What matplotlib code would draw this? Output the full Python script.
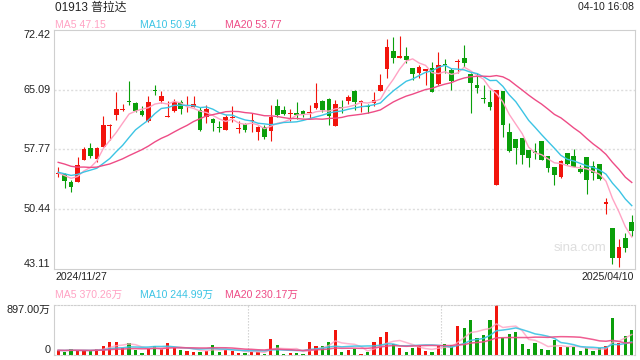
import numpy as np
import pandas as pd
import matplotlib
matplotlib.use("Agg")
import matplotlib.pyplot as plt

plt.rcParams['font.family'] = ['Liberation Sans', 'Noto Sans CJK SC']

# daily OHLC, 2024/11/27 .. 2025/04/10 (90 sessions)
opens = [54.80, 54.72, 53.82, 53.82, 56.48, 57.95, 56.60, 58.11, 60.70, 62.00,
         62.66, 63.66, 63.51, 62.53, 61.26, 64.97, 63.71, 61.76, 62.49, 63.63,
         62.55, 63.02, 62.61, 61.71, 61.51, 60.50, 60.16, 61.57, 60.26, 60.89,
         61.24, 59.95, 60.57, 60.08, 63.10, 62.61, 62.06, 62.28, 62.49, 62.30,
         62.86, 63.71, 63.96, 60.65, 63.00, 63.71, 64.94, 63.57, 62.96, 63.43,
         64.98, 67.60, 69.84, 69.03, 69.23, 67.72, 67.11, 67.35, 67.72, 65.80,
         68.25, 67.52, 68.44, 69.03, 66.98, 65.68, 63.95, 63.63, 53.41, 64.94,
         59.87, 59.05, 59.22, 57.71, 57.58, 58.81, 56.97, 55.66, 54.44, 57.30,
         56.97, 55.33, 56.81, 55.74, 55.95, 51.04, 48.10, 44.50, 46.87, 48.84]
highs = [55.66, 54.84, 54.02, 56.89, 58.03, 58.52, 58.03, 61.92, 60.89, 64.78,
         63.30, 66.17, 63.63, 63.10, 64.33, 65.67, 64.98, 63.71, 63.92, 63.84,
         64.33, 64.33, 63.02, 63.22, 61.59, 61.30, 62.00, 63.10, 61.30, 60.98,
         62.20, 60.65, 60.77, 63.22, 63.92, 63.10, 62.69, 63.55, 62.57, 63.22,
         65.96, 63.84, 64.04, 63.84, 63.84, 64.45, 65.06, 63.84, 63.35, 64.86,
         66.98, 71.28, 71.52, 71.73, 70.29, 67.80, 68.13, 67.64, 68.46, 69.76,
         68.86, 67.72, 68.86, 70.58, 67.11, 67.11, 65.68, 65.06, 65.06, 64.94,
         60.98, 59.05, 59.22, 57.71, 58.52, 58.81, 56.97, 55.66, 56.48, 57.30,
         57.79, 55.87, 56.81, 56.36, 55.95, 51.86, 48.10, 46.75, 47.57, 49.73]
lows = [54.43, 53.00, 52.60, 53.80, 56.48, 56.68, 56.27, 58.11, 58.93, 61.38,
        62.49, 63.22, 62.41, 61.87, 61.18, 64.45, 63.51, 61.71, 62.41, 62.12,
        62.36, 63.02, 60.07, 60.98, 60.03, 59.95, 60.16, 61.18, 59.83, 59.95,
        59.95, 58.93, 59.09, 58.85, 61.79, 62.00, 61.30, 61.47, 61.71, 61.59,
        62.73, 62.41, 60.77, 60.65, 62.20, 63.35, 62.61, 62.41, 62.20, 63.10,
        64.98, 66.49, 68.41, 69.03, 68.41, 66.29, 66.49, 65.68, 64.78, 65.68,
        67.19, 65.06, 67.11, 67.84, 62.28, 64.65, 63.51, 62.61, 53.41, 59.26,
        57.50, 55.99, 55.99, 55.66, 56.56, 56.48, 55.05, 53.41, 54.23, 55.87,
        55.58, 54.93, 52.27, 54.03, 54.03, 49.82, 43.69, 43.40, 45.24, 47.20]
closes = [54.85, 53.94, 53.21, 55.87, 57.83, 56.97, 57.99, 60.77, 60.77, 62.73,
          62.69, 63.61, 62.53, 62.00, 63.63, 64.92, 64.33, 61.80, 63.59, 62.77,
          62.58, 63.30, 60.15, 62.69, 60.98, 60.46, 61.71, 61.60, 60.29, 60.16,
          61.27, 60.57, 59.34, 61.71, 62.00, 62.12, 62.10, 62.04, 62.00, 62.33,
          63.51, 62.61, 61.92, 63.35, 62.90, 64.25, 63.63, 63.60, 62.92, 63.84,
          65.68, 70.38, 69.03, 69.27, 68.74, 66.98, 67.84, 67.60, 64.78, 68.13,
          68.18, 66.21, 68.47, 68.33, 65.88, 65.35, 63.90, 62.94, 65.06, 60.77,
          57.62, 57.99, 57.09, 56.77, 57.30, 56.48, 55.46, 54.64, 56.36, 55.95,
          55.58, 55.05, 54.03, 54.84, 54.11, 51.37, 44.50, 45.85, 45.65, 47.81]
# volume, 万股
volumes = [97, 61, 115, 79, 79, 67, 115, 170, 242, 242,
           121, 224, 97, 42, 109, 170, 109, 224, 121, 97,
           79, 61, 61, 79, 188, 61, 97, 79, 42, 42,
           61, 61, 24, 279, 188, 24, 42, 42, 24, 242,
           170, 170, 242, 442, 61, 97, 115, 24, 61, 242,
           315, 406, 206, 133, 61, 133, 170, 79, 61, 170,
           206, 188, 515, 479, 624, 297, 351, 624, 897, 297,
           370, 406, 206, 115, 224, 115, 97, 261, 141, 141,
           141, 69, 123, 69, 123, 170, 670, 215, 345, 440]

# sessions before the window, only used to seed the moving averages
prev_closes = [58.2, 58.6, 58.0, 57.6, 57.9, 57.2, 56.8, 57.0, 56.5, 56.3,
               55.8, 55.2, 54.6, 54.9, 54.7, 55.6, 54.9, 54.8, 54.35]
prev_volumes = [95, 70, 88, 120, 76, 64, 102, 85, 73, 90,
                68, 81, 110, 77, 66, 92, 84, 71, 79]

price_ticks = [72.42, 65.09, 57.77, 50.44, 43.11]
price_ma_text = ['MA5 47.15', 'MA10 50.94', 'MA20 53.77']
vol_ma_text = ['MA5 370.26万', 'MA10 244.99万', 'MA20 230.17万']
vol_top = 897.00
first_date = '2024/11/27'
last_date = '2025/04/10'

up_color = '#f2140c'
down_color = '#0a9f0a'
ma_colors = ['#ffa3c4', '#3cc4e4', '#ee4c86']
frame = '#cfcfcf'
grid = '#dddddd'

n = len(closes)
x = np.arange(n)
c_all = pd.Series(prev_closes + closes)
v_all = pd.Series(prev_volumes + volumes)
k0 = len(prev_closes)
price_ma = [c_all.rolling(w).mean().to_numpy()[k0:] for w in (5, 10, 20)]
vol_ma = [v_all.rolling(w).mean().to_numpy()[k0:] for w in (5, 10, 20)]

o = np.array(opens)
c = np.array(closes)
up = c >= o
colors = np.where(up, up_color, down_color)

fig = plt.figure(figsize=(6.4, 3.6), dpi=100)
ax = fig.add_axes([54 / 640, 1 - 269 / 360, 581 / 640, 239 / 360])
axv = fig.add_axes([54 / 640, 1 - 355 / 360, 581 / 640, 50 / 360])

# price panel
ax.text(0.95, 0.087, 'sina.com', transform=ax.transAxes, ha='right', va='center',
        fontsize=9.5, color='#dedede', zorder=0)
for t in price_ticks[1:-1]:
    ax.axhline(t, color=grid, lw=1.0, dashes=(1.5, 1.5), zorder=0)
ax.vlines(x, lows, highs, colors=colors, lw=0.8, zorder=2)
ax.bar(x, np.maximum(np.abs(c - o), 0.12), bottom=np.minimum(o, c), width=0.72,
       color=colors, linewidth=0, zorder=2)
for ma, col in zip(price_ma, ma_colors):
    ax.plot(x, ma, color=col, lw=1.0, zorder=3)
ax.set_xlim(-0.65, n - 0.5)
ax.set_ylim(price_ticks[-1], price_ticks[0])
ax.set_xticks([])
ax.set_yticks([])
for s in ax.spines.values():
    s.set_color(frame)
    s.set_linewidth(0.8)
ytr = ax.get_yaxis_transform()
for i, t in enumerate(price_ticks):
    va = 'top' if i == 0 else ('bottom' if i == len(price_ticks) - 1 else 'center')
    ax.text(-0.006, t, f'{t:.2f}', transform=ytr, ha='right', va=va,
            fontsize=7.8, color='#222222')

# volume panel
axv.bar(x, volumes, width=0.5, color=colors, linewidth=0, zorder=2)
for ma, col, a in zip(vol_ma, ma_colors, (0.8, 0.9, 0.9)):
    axv.plot(x, ma, color=col, lw=1.1, alpha=a, zorder=3)
for fx in (1 / 3, 2 / 3):
    axv.plot([fx, fx], [0, 1], transform=axv.transAxes, color='#cccccc', lw=0.8,
             dashes=(1.2, 1.5), zorder=0)
axv.set_xlim(-0.65, n - 0.5)
axv.set_ylim(0, vol_top)
axv.set_xticks([])
axv.set_yticks([])
for name, s in axv.spines.items():
    s.set_color(frame)
    s.set_linewidth(0.8)
    if name in ('top', 'bottom'):
        s.set_linestyle((0, (1.5, 1.5)))
axv.text(-0.006, 1.0, f'{vol_top:.2f}万', transform=axv.transAxes, ha='right', va='top',
         fontsize=7.8, color='#222222')
axv.text(-0.006, 0.0, '0', transform=axv.transAxes, ha='right', va='bottom',
         fontsize=7.8, color='#222222')

# header and labels
fig.text(55 / 640, 1 - 8 / 360, '01913 普拉达', ha='left', va='center', fontsize=8.5,
         color='#222222')
fig.text(634 / 640, 1 - 7 / 360, '04-10 16:08', ha='right', va='center', fontsize=7.6,
         color='#222222')
for txt, col, px in zip(price_ma_text, ma_colors, (55, 140, 225)):
    fig.text(px / 640, 1 - 24.5 / 360, txt, ha='left', va='center', fontsize=7.6, color=col)
for txt, col, px in zip(vol_ma_text, ma_colors, (55, 140, 225)):
    fig.text(px / 640, 1 - 295 / 360, txt, ha='left', va='center', fontsize=7.6, color=col)
fig.text(55 / 640, 1 - 277.5 / 360, first_date, ha='left', va='center', fontsize=7.6,
         color='#222222')
fig.text(634 / 640, 1 - 277.5 / 360, last_date, ha='right', va='center', fontsize=7.6,
         color='#222222')

fig.savefig('out.png', dpi=100, facecolor='white')
